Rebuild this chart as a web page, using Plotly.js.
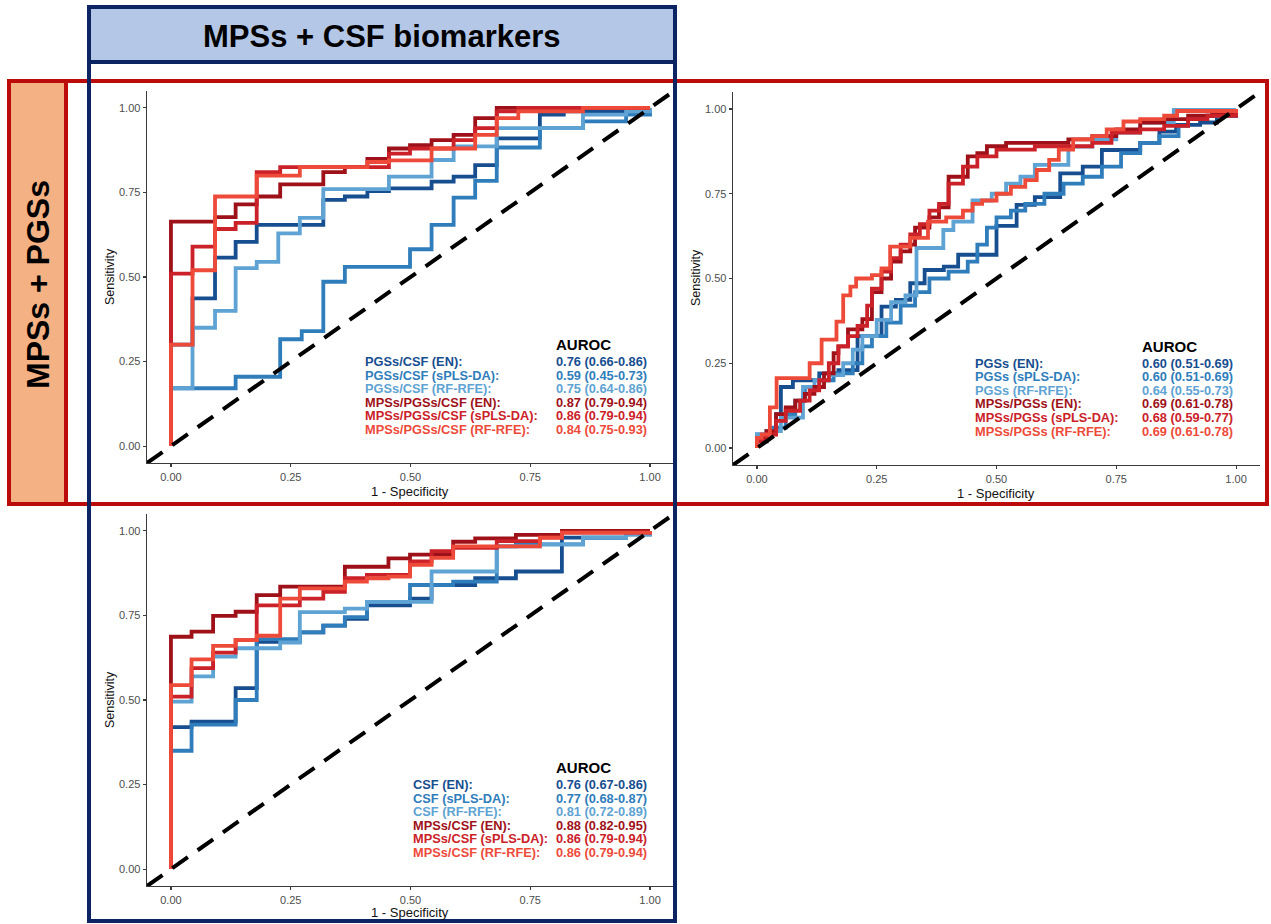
<!DOCTYPE html>
<html><head><meta charset="utf-8">
<script src="https://cdn.plot.ly/plotly-3.0.1.min.js"></script>
<style>body{margin:0;background:#fff}#chart{width:1271px;height:924px}</style>
</head><body><div id="chart"></div>
<script>
// ---------- tick labels ----------
const tickVals = [0, 0.25, 0.5, 0.75, 1];
const tickLabels = ['0.00', '0.25', '0.50', '0.75', '1.00'];

// ---------- Panel 1: PGSs/CSF vs MPSs/PGSs/CSF ----------
const p1_names = ['PGSs/CSF (EN):', 'PGSs/CSF (sPLS-DA):', 'PGSs/CSF (RF-RFE):', 'MPSs/PGSs/CSF (EN):', 'MPSs/PGSs/CSF (sPLS-DA):', 'MPSs/PGSs/CSF (RF-RFE):'];
const p1_auc = ['0.76 (0.66-0.86)', '0.59 (0.45-0.73)', '0.75 (0.64-0.86)', '0.87 (0.79-0.94)', '0.86 (0.79-0.94)', '0.84 (0.75-0.93)'];
const p1_en_fpr = [0, 0, 0.045, 0.092, 0.135, 0.179, 0.318, 0.363, 0.41, 0.455, 0.544, 0.59, 0.635, 0.68, 0.77, 0.82, 1];
const p1_en_tpr = [0, 0.30, 0.437, 0.557, 0.604, 0.654, 0.728, 0.738, 0.754, 0.762, 0.782, 0.797, 0.831, 0.91, 0.98, 0.99, 1];
const p1_spls_fpr = [0, 0, 0.135, 0.228, 0.273, 0.318, 0.363, 0.499, 0.544, 0.59, 0.635, 0.68, 0.77, 0.86, 0.95, 1];
const p1_spls_tpr = [0, 0.171, 0.205, 0.316, 0.34, 0.486, 0.53, 0.582, 0.654, 0.735, 0.784, 0.883, 0.94, 0.96, 0.98, 1];
const p1_rf_fpr = [0, 0, 0.045, 0.092, 0.135, 0.179, 0.224, 0.269, 0.318, 0.455, 0.544, 0.59, 0.68, 0.86, 0.95, 1];
const p1_rf_tpr = [0, 0.171, 0.35, 0.40, 0.526, 0.545, 0.629, 0.675, 0.76, 0.797, 0.846, 0.886, 0.94, 0.98, 0.99, 1];
const p1_men_fpr = [0, 0, 0.092, 0.135, 0.179, 0.228, 0.318, 0.363, 0.41, 0.455, 0.499, 0.544, 0.59, 0.635, 0.68, 1];
const p1_men_tpr = [0, 0.664, 0.677, 0.715, 0.738, 0.774, 0.81, 0.825, 0.849, 0.88, 0.89, 0.905, 0.92, 0.97, 1.0, 1];
const p1_mspls_fpr = [0, 0, 0.045, 0.092, 0.135, 0.179, 0.228, 0.455, 0.499, 0.59, 0.635, 0.68, 0.725, 1];
const p1_mspls_tpr = [0, 0.51, 0.59, 0.642, 0.66, 0.81, 0.825, 0.865, 0.88, 0.905, 0.94, 0.99, 1.0, 1];
const p1_mrf_fpr = [0, 0, 0.045, 0.092, 0.179, 0.269, 0.41, 0.455, 0.544, 0.635, 0.68, 0.725, 0.86, 1];
const p1_mrf_tpr = [0, 0.30, 0.52, 0.738, 0.80, 0.825, 0.84, 0.845, 0.88, 0.92, 0.97, 0.99, 1.0, 1];

// ---------- Panel 2: PGSs vs MPSs/PGSs ----------
const p2_names = ['PGSs (EN):', 'PGSs (sPLS-DA):', 'PGSs (RF-RFE):', 'MPSs/PGSs (EN):', 'MPSs/PGSs (sPLS-DA):', 'MPSs/PGSs (RF-RFE):'];
const p2_auc = ['0.60 (0.51-0.69)', '0.60 (0.51-0.69)', '0.64 (0.55-0.73)', '0.69 (0.61-0.78)', '0.68 (0.59-0.77)', '0.69 (0.61-0.78)'];
const p2_en_fpr = [0, 0, 0.02, 0.04, 0.05, 0.075, 0.13, 0.17, 0.21, 0.26, 0.29, 0.32, 0.35, 0.39, 0.42, 0.5, 0.542, 0.58, 0.633, 0.68, 0.72, 0.8, 0.84, 0.875, 0.925, 0.96, 1];
const p2_en_tpr = [0, 0.02, 0.05, 0.1, 0.18, 0.2, 0.22, 0.23, 0.33, 0.417, 0.437, 0.486, 0.525, 0.535, 0.57, 0.655, 0.717, 0.74, 0.81, 0.83, 0.879, 0.9, 0.933, 0.953, 0.96, 0.98, 1];
const p2_spls_fpr = [0, 0, 0.03, 0.06, 0.08, 0.1, 0.13, 0.16, 0.2, 0.22, 0.24, 0.27, 0.3, 0.33, 0.36, 0.4, 0.44, 0.46, 0.48, 0.5, 0.53, 0.56, 0.6, 0.64, 0.68, 0.72, 0.76, 0.8, 0.84, 0.88, 0.9, 0.94, 1];
const p2_spls_tpr = [0, 0.04, 0.06, 0.1, 0.14, 0.18, 0.2, 0.22, 0.25, 0.3, 0.33, 0.37, 0.42, 0.46, 0.5, 0.52, 0.55, 0.6, 0.65, 0.68, 0.7, 0.72, 0.75, 0.78, 0.8, 0.83, 0.87, 0.9, 0.92, 0.95, 0.97, 0.98, 1];
const p2_rf_fpr = [0, 0, 0.02, 0.05, 0.096, 0.12, 0.15, 0.18, 0.2, 0.22, 0.25, 0.28, 0.31, 0.333, 0.389, 0.41, 0.45, 0.49, 0.52, 0.55, 0.58, 0.65, 0.7, 0.75, 0.8, 0.87, 1];
const p2_rf_tpr = [0, 0.04, 0.05, 0.09, 0.18, 0.2, 0.215, 0.25, 0.29, 0.33, 0.378, 0.43, 0.45, 0.59, 0.643, 0.668, 0.73, 0.75, 0.78, 0.8, 0.835, 0.889, 0.91, 0.93, 0.96, 0.997, 1];
const p2_men_fpr = [0, 0, 0.02, 0.04, 0.06, 0.08, 0.1, 0.12, 0.14, 0.16, 0.17, 0.19, 0.22, 0.24, 0.26, 0.28, 0.30, 0.32, 0.33, 0.36, 0.38, 0.40, 0.44, 0.46, 0.48, 0.52, 0.62, 0.65, 0.70, 0.75, 0.8, 0.85, 0.9, 0.95, 1];
const p2_men_tpr = [0, 0.03, 0.05, 0.1, 0.12, 0.14, 0.16, 0.18, 0.22, 0.28, 0.3, 0.35, 0.38, 0.46, 0.5, 0.55, 0.58, 0.6, 0.65, 0.68, 0.71, 0.8, 0.86, 0.87, 0.89, 0.9, 0.9, 0.91, 0.92, 0.94, 0.96, 0.97, 0.98, 0.99, 1];
const p2_mspls_fpr = [0, 0, 0.02, 0.04, 0.06, 0.09, 0.11, 0.13, 0.15, 0.17, 0.19, 0.21, 0.23, 0.24, 0.26, 0.28, 0.30, 0.32, 0.34, 0.36, 0.38, 0.40, 0.43, 0.46, 0.5, 0.58, 0.7, 0.74, 0.8, 0.85, 0.9, 0.94, 1];
const p2_mspls_tpr = [0, 0.02, 0.04, 0.08, 0.11, 0.14, 0.17, 0.2, 0.25, 0.3, 0.33, 0.36, 0.42, 0.47, 0.52, 0.56, 0.6, 0.63, 0.66, 0.7, 0.72, 0.78, 0.83, 0.86, 0.88, 0.89, 0.9, 0.93, 0.94, 0.95, 0.97, 0.98, 1];
const p2_mrf_fpr = [0, 0, 0.01, 0.027, 0.041, 0.11, 0.135, 0.166, 0.18, 0.195, 0.207, 0.24, 0.26, 0.278, 0.32, 0.357, 0.395, 0.43, 0.45, 0.47, 0.5, 0.53, 0.56, 0.584, 0.61, 0.63, 0.66, 0.7, 0.73, 0.765, 0.8, 0.85, 0.877, 1];
const p2_mrf_tpr = [0, 0.03, 0.04, 0.12, 0.206, 0.25, 0.32, 0.373, 0.45, 0.476, 0.5, 0.51, 0.53, 0.594, 0.62, 0.668, 0.68, 0.7, 0.72, 0.73, 0.75, 0.77, 0.79, 0.82, 0.85, 0.88, 0.91, 0.92, 0.94, 0.963, 0.97, 0.98, 0.994, 1];

// ---------- Panel 3: CSF vs MPSs/CSF ----------
const p3_names = ['CSF (EN):', 'CSF (sPLS-DA):', 'CSF (RF-RFE):', 'MPSs/CSF (EN):', 'MPSs/CSF (sPLS-DA):', 'MPSs/CSF (RF-RFE):'];
const p3_auc = ['0.76 (0.67-0.86)', '0.77 (0.68-0.87)', '0.81 (0.72-0.89)', '0.88 (0.82-0.95)', '0.86 (0.79-0.94)', '0.86 (0.79-0.94)'];
const p3_en_fpr = [0, 0, 0.043, 0.135, 0.179, 0.269, 0.318, 0.363, 0.409, 0.499, 0.544, 0.635, 0.72, 0.816, 0.95, 1];
const p3_en_tpr = [0, 0.42, 0.436, 0.535, 0.672, 0.70, 0.72, 0.74, 0.78, 0.80, 0.84, 0.86, 0.88, 0.98, 0.99, 1];
const p3_spls_fpr = [0, 0, 0.043, 0.135, 0.179, 0.269, 0.318, 0.363, 0.409, 0.499, 0.589, 0.68, 0.72, 0.86, 0.95, 1];
const p3_spls_tpr = [0, 0.35, 0.427, 0.50, 0.68, 0.70, 0.72, 0.745, 0.79, 0.84, 0.85, 0.954, 0.96, 0.98, 0.99, 1];
const p3_rf_fpr = [0, 0, 0.043, 0.088, 0.135, 0.228, 0.269, 0.363, 0.409, 0.544, 0.68, 0.77, 0.86, 0.95, 1];
const p3_rf_tpr = [0, 0.495, 0.57, 0.628, 0.653, 0.67, 0.76, 0.77, 0.79, 0.88, 0.954, 0.96, 0.98, 0.99, 1];
const p3_men_fpr = [0, 0, 0.043, 0.088, 0.135, 0.179, 0.228, 0.363, 0.454, 0.499, 0.589, 0.635, 0.72, 0.816, 1];
const p3_men_tpr = [0, 0.687, 0.702, 0.749, 0.761, 0.81, 0.835, 0.894, 0.919, 0.93, 0.968, 0.978, 0.988, 1.0, 1];
const p3_mspls_fpr = [0, 0, 0.043, 0.088, 0.135, 0.179, 0.269, 0.318, 0.363, 0.409, 0.499, 0.544, 0.589, 0.68, 0.77, 0.816, 1];
const p3_mspls_tpr = [0, 0.51, 0.594, 0.64, 0.677, 0.78, 0.80, 0.82, 0.86, 0.87, 0.91, 0.94, 0.95, 0.97, 0.98, 0.995, 1];
const p3_mrf_fpr = [0, 0, 0.043, 0.088, 0.135, 0.179, 0.228, 0.269, 0.363, 0.409, 0.454, 0.499, 0.544, 0.589, 0.77, 0.816, 1];
const p3_mrf_tpr = [0, 0.544, 0.62, 0.66, 0.677, 0.69, 0.80, 0.83, 0.85, 0.86, 0.865, 0.90, 0.92, 0.954, 0.98, 0.995, 1];

// ---------- reference diagonal ----------
const diagX = [-0.05, 1.05];
const diagY = [-0.05, 1.05];

// ---------- styling ----------
const colors = ['#174e90', '#2f7dbb', '#5ea3d3', '#9e1119', '#cb2129', '#ee4a3a'];
const FONT = 'Arial, "Liberation Sans", sans-serif';
const W = 1271, H = 924;
const px = v => v / W, py = v => 1 - v / H;

const panels = [
  {xa: 'x', ya: 'y', names: p1_names, auc: p1_auc,
   curves: [[p1_en_fpr, p1_en_tpr], [p1_spls_fpr, p1_spls_tpr], [p1_rf_fpr, p1_rf_tpr], [p1_men_fpr, p1_men_tpr], [p1_mspls_fpr, p1_mspls_tpr], [p1_mrf_fpr, p1_mrf_tpr]],
   labX: 0.40, xTitle: [410, 491], yTitle: [110, 277]},
  {xa: 'x2', ya: 'y2', names: p2_names, auc: p2_auc,
   curves: [[p2_en_fpr, p2_en_tpr], [p2_spls_fpr, p2_spls_tpr], [p2_rf_fpr, p2_rf_tpr], [p2_men_fpr, p2_men_tpr], [p2_mspls_fpr, p2_mspls_tpr], [p2_mrf_fpr, p2_mrf_tpr]],
   labX: 0.45, xTitle: [996, 493], yTitle: [696, 278]},
  {xa: 'x3', ya: 'y3', names: p3_names, auc: p3_auc,
   curves: [[p3_en_fpr, p3_en_tpr], [p3_spls_fpr, p3_spls_tpr], [p3_rf_fpr, p3_rf_tpr], [p3_men_fpr, p3_men_tpr], [p3_mspls_fpr, p3_mspls_tpr], [p3_mrf_fpr, p3_mrf_tpr]],
   labX: 0.50, xTitle: [410, 912], yTitle: [110, 700]}
];

const traces = [];
const annotations = [];
const rowY = [0.25, 0.21, 0.17, 0.13, 0.09, 0.05];
panels.forEach(p => {
  p.curves.forEach((c, i) => {
    traces.push({type: 'scatter', mode: 'lines', x: c[0], y: c[1], xaxis: p.xa, yaxis: p.ya,
      line: {color: colors[i], width: 3.8, shape: 'hv'}, hoverinfo: 'skip', showlegend: false});
  });
  traces.push({type: 'scatter', mode: 'lines', x: diagX, y: diagY, xaxis: p.xa, yaxis: p.ya,
    line: {color: '#000', width: 4, dash: '19px,12px'}, hoverinfo: 'skip', showlegend: false});
  annotations.push({xref: p.xa, yref: p.ya, x: 0.80, y: 0.30, text: '<b>AUROC</b>', showarrow: false,
    xanchor: 'left', yanchor: 'middle', font: {family: FONT, size: 15, color: '#000'}});
  p.names.forEach((n, i) => {
    annotations.push({xref: p.xa, yref: p.ya, x: p.labX, y: rowY[i], text: '<b>' + n + '</b>', showarrow: false,
      xanchor: 'left', yanchor: 'middle', font: {family: FONT, size: 12.8, color: colors[i]}});
    annotations.push({xref: p.xa, yref: p.ya, x: 0.80, y: rowY[i], text: '<b>' + p.auc[i] + '</b>', showarrow: false,
      xanchor: 'left', yanchor: 'middle', font: {family: FONT, size: 12.8, color: colors[i]}});
  });
  annotations.push({xref: 'paper', yref: 'paper', x: px(p.xTitle[0]), y: py(p.xTitle[1]), text: '1 - Specificity', showarrow: false,
    xanchor: 'center', yanchor: 'middle', font: {family: FONT, size: 13, color: '#111'}});
  annotations.push({xref: 'paper', yref: 'paper', x: px(p.yTitle[0]), y: py(p.yTitle[1]), text: 'Sensitivity', textangle: -90, showarrow: false,
    xanchor: 'center', yanchor: 'middle', font: {family: FONT, size: 12.5, color: '#111'}});
});

// row / column headers
annotations.push({xref: 'paper', yref: 'paper', x: px(382), y: py(36), text: '<b>MPSs + CSF biomarkers</b>',
  showarrow: false, xanchor: 'center', yanchor: 'middle', font: {family: FONT, size: 31, color: '#000'}});
annotations.push({xref: 'paper', yref: 'paper', x: px(38), y: py(285), text: '<b>MPSs + PGSs</b>', textangle: -90,
  showarrow: false, xanchor: 'center', yanchor: 'middle', font: {family: FONT, size: 32, color: '#000'}});

function axis(domain, anchor) {
  return {domain: domain, anchor: anchor, range: [-0.05, 1.05], showgrid: false, zeroline: false,
    showline: true, linecolor: '#3a3a3a', linewidth: 1.4, ticks: 'outside', ticklen: 3, tickwidth: 1.1, tickcolor: '#3a3a3a',
    tickvals: tickVals, ticktext: tickLabels, tickfont: {family: FONT, size: 11, color: '#4d4d4d'}};
}

const navy = '#0c2461', red = '#bb0b0b';
const shapes = [
  {type: 'rect', xref: 'paper', yref: 'paper', x0: px(9), x1: px(66), y0: py(504), y1: py(81), fillcolor: '#f4b183', line: {width: 0}, layer: 'below'},
  {type: 'rect', xref: 'paper', yref: 'paper', x0: px(89), x1: px(675), y0: py(62), y1: py(7), fillcolor: '#b4c7e7', line: {width: 0}, layer: 'below'},
  {type: 'rect', xref: 'paper', yref: 'paper', x0: px(9), x1: px(1267), y0: py(504), y1: py(81), line: {color: red, width: 4}, layer: 'above'},
  {type: 'line', xref: 'paper', yref: 'paper', x0: px(66), x1: px(66), y0: py(504), y1: py(81), line: {color: red, width: 4}, layer: 'above'},
  {type: 'rect', xref: 'paper', yref: 'paper', x0: px(89), x1: px(675), y0: py(921), y1: py(7), line: {color: navy, width: 4}, layer: 'above'},
  {type: 'line', xref: 'paper', yref: 'paper', x0: px(89), x1: px(675), y0: py(62), y1: py(62), line: {color: navy, width: 4}, layer: 'above'}
];

const layout = {
  width: W, height: H, margin: {l: 0, r: 0, t: 0, b: 0},
  paper_bgcolor: '#fff', plot_bgcolor: 'rgba(0,0,0,0)', showlegend: false,
  font: {family: FONT},
  xaxis: axis([px(147), px(674)], 'y'),
  yaxis: axis([py(463), py(91)], 'x'),
  xaxis2: axis([px(733), px(1260)], 'y2'),
  yaxis2: axis([py(465), py(92)], 'x2'),
  xaxis3: axis([px(147), px(674)], 'y3'),
  yaxis3: axis([py(886), py(514)], 'x3'),
  annotations: annotations,
  shapes: shapes
};

Plotly.newPlot('chart', traces, layout, {displayModeBar: false, staticPlot: true});
</script>
</body></html>
